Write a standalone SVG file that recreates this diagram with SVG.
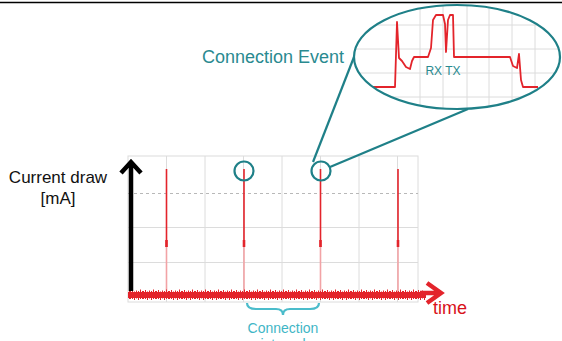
<svg xmlns="http://www.w3.org/2000/svg" width="562" height="341" viewBox="0 0 562 341">
<style>
.grid{stroke:#dcdcdc;stroke-width:1;fill:none}
.dash{stroke:#b8b8b8;stroke-width:1;stroke-dasharray:3 3;fill:none}
.spike{stroke:#e3242b;stroke-width:1.6;fill:none}
.spikelo{stroke:#f2a3a6;stroke-width:1.6;fill:none}
.teal{stroke:#1f8088;stroke-width:2.2;fill:none}
.lbl{font-family:"Liberation Sans",Arial,sans-serif}
</style>
<defs>
<pattern id="noise" x="0" y="289" width="13" height="12" patternUnits="userSpaceOnUse">
<rect x="0" y="3" width="13" height="6" fill="#e3242b"/>
<path d="M0.5,2 v8 M2.5,1 v9 M4.5,2.5 v8.5 M6.5,1.5 v8 M8.5,2 v9 M10.5,0.5 v9.5 M12.5,2 v8" stroke="#e3242b" stroke-width="1"/>
</pattern>
<clipPath id="ec"><ellipse cx="457" cy="57" rx="103" ry="52"/></clipPath>
</defs>
<rect width="562" height="341" fill="#fff"/>
<line x1="0" y1="2.5" x2="562" y2="2.5" stroke="#000" stroke-width="1.5"/>

<g id="chart">
<rect x="128" y="156" width="290" height="146" class="grid"/>
<path class="grid" d="M166.5,156V302 M205,156V302 M243.5,156V302 M282,156V302 M320.5,156V302 M359,156V302 M397.5,156V302 M128,227.5H418 M128,262.5H418"/>
<path class="dash" d="M128,193.5H418"/>
</g>

<g id="spikes">
<path class="spikelo" d="M166.5,246V292 M244,246V292 M320.5,246V292 M398,246V292"/>
<path class="spike" d="M166.5,169V247 M244,169V247 M320.5,169V247 M398,169V247"/>
<path stroke="#e3242b" stroke-width="2.6" d="M166.5,240V247 M244,240V247 M320.5,240V247 M398,240V247"/>
</g>

<g id="baseline">
<rect x="128" y="289" width="298" height="12" fill="url(#noise)"/>
</g>

<g id="connectors">
<path d="M420,293H440 M427,283L441,293L427,303" stroke="#e3242b" stroke-width="4.5" fill="none" stroke-linejoin="miter"/>
<path d="M131,291V162 M121,173L131,162L141,173" stroke="#000" stroke-width="4.5" fill="none"/>
<circle class="teal" cx="244" cy="171" r="9.5"/>
<circle class="teal" cx="321" cy="171" r="9.5"/>
<line class="teal" stroke-width="1.5" x1="330" y1="167" x2="468" y2="109"/>
<line class="teal" stroke-width="1.5" x1="313" y1="162" x2="354" y2="57"/>
<path d="M247,303 Q247,309 256,309 H276 Q283,309 283,315 Q283,309 290,309 H310 Q319,309 319,303" stroke="#4bbccb" stroke-width="2.2" fill="none"/>
</g>

<g id="zoom">
<ellipse cx="457" cy="57" rx="103" ry="52" fill="#fff"/>
<g clip-path="url(#ec)">
<path class="grid" d="M420,0V120 M443,0V120 M467,0V120 M489,0V120 M512,0V120 M535,0V120 M350,25H562 M350,49H562 M350,73H562 M350,97H562"/>
<path d="M372,87 L395,87 L397,22 L399,58 L402,61 L406,67 L410,69 L412,61 L414,57 L428,57 L431,48 L433,20 L436,15 L443,15 L445,24 L446,52 L448,20 L450,15 L453,15 L454,57 L510,57 L513,66 L517,68 L519,54 L521,80 L523,87 L538,87" stroke="#e3242b" stroke-width="1.8" fill="none" stroke-linejoin="round"/>
</g>
<ellipse class="teal" cx="457" cy="57" rx="103" ry="52" stroke-width="2.5"/>
<text class="lbl" x="443" y="75" font-size="12" fill="#2a8a90" text-anchor="middle">RX TX</text>
</g>

<g id="labels">
<text class="lbl" x="202" y="63" font-size="18" fill="#2a8a90">Connection Event</text>
<text class="lbl" x="58" y="183" font-size="17" fill="#111" text-anchor="middle">Current draw</text>
<text class="lbl" x="58" y="204" font-size="17" fill="#111" text-anchor="middle">[mA]</text>
<text class="lbl" x="433" y="314" font-size="18" fill="#d8121a">time</text>
<text class="lbl" x="283" y="333" font-size="14" fill="#3fb6c6" text-anchor="middle">Connection</text>
<text class="lbl" x="283" y="349" font-size="14" fill="#3fb6c6" text-anchor="middle">interval</text>
</g>
</svg>
